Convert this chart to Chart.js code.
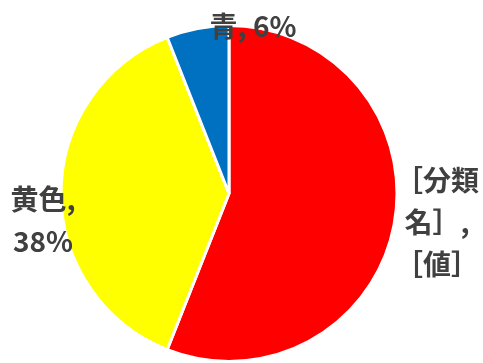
<!DOCTYPE html>
<html>
<head>
<meta charset="utf-8">
<script src="https://cdn.jsdelivr.net/npm/chart.js@4"></script>
<style>
  html, body { margin: 0; padding: 0; background: #fff; }
  #wrap { width: 483px; height: 363px; }
</style>
</head>
<body>
<div id="wrap"><canvas id="pie"></canvas></div>
<script>
// 分類と値
const categories = ['赤', '黄色', '青'];
const values = [56, 38, 6];
const colors = ['#FF0000', '#FFFF00', '#0070C0'];
// データラベル(行ごと)
const labelLines = [
  ['［分類', '名］,', '［値］'],
  ['黄色,', '38%'],
  ['青, 6%']
];
const labelPos = [[437, 180], [43, 199], [253, 26]];

const dataLabels = {
  id: 'dataLabels',
  afterDatasetsDraw(chart) {
    const ctx = chart.ctx;
    ctx.save();
    ctx.fillStyle = '#404040';
    ctx.font = 'bold 28px "Noto Sans CJK JP", sans-serif';
    ctx.textAlign = 'center';
    ctx.textBaseline = 'middle';
    labelLines.forEach((lines, i) => {
      const [x, y] = labelPos[i];
      lines.forEach((t, j) => ctx.fillText(t, x, y + j * 42));
    });
    ctx.restore();
  }
};

new Chart(document.getElementById('pie'), {
  type: 'pie',
  data: {
    labels: categories,
    datasets: [{
      data: values,
      backgroundColor: colors,
      borderColor: '#FFFFFF',
      borderWidth: 3
    }]
  },
  options: {
    responsive: true,
    maintainAspectRatio: false,
    animation: false,
    layout: { padding: { left: 57, right: 82, top: 24, bottom: -4 } },
    plugins: {
      legend: { display: false },
      tooltip: { enabled: false }
    }
  },
  plugins: [dataLabels]
});
</script>
</body>
</html>
